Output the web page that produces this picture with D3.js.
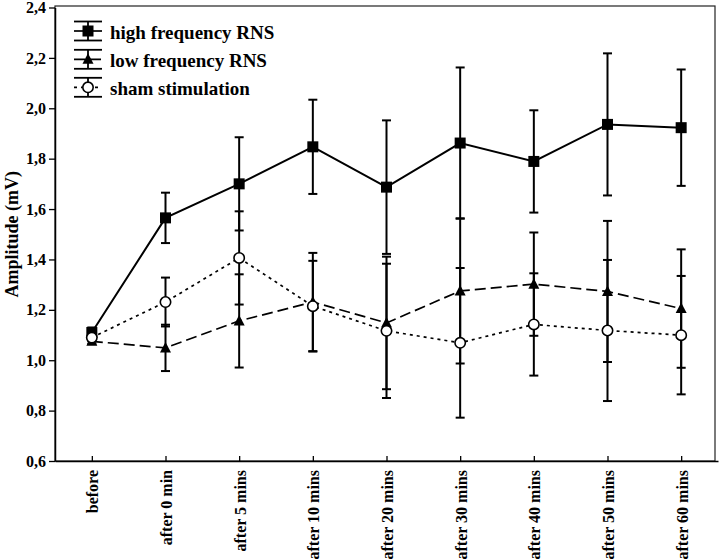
<!DOCTYPE html>
<html><head><meta charset="utf-8">
<script src="https://cdn.jsdelivr.net/npm/d3@7"></script>
<style>
body{margin:0;background:#fff;}
svg{display:block;font-family:"Liberation Serif","Times New Roman",serif;font-weight:bold;}
</style></head>
<body><svg id="chart" width="720" height="560"></svg>
<script>
const categories = ["before","after 0 min","after 5 mins","after 10 mins","after 20 mins","after 30 mins","after 40 mins","after 50 mins","after 60 mins"];
const highMean = [1.11,1.565,1.70,1.847,1.687,1.862,1.789,1.936,1.923];
const highErr  = [0.02,0.10,0.185,0.187,0.265,0.30,0.203,0.282,0.231];
const lowMean  = [1.075,1.049,1.156,1.231,1.148,1.275,1.302,1.273,1.205];
const lowErr   = [0.01,0.092,0.185,0.195,0.263,0.288,0.205,0.28,0.235];
const shamMean = [1.09,1.231,1.406,1.2145,1.1165,1.069,1.142,1.118,1.0995];
const shamErr  = [0.015,0.097,0.185,0.18,0.2665,0.297,0.203,0.28,0.235];
const yTicks = [0.6,0.8,1.0,1.2,1.4,1.6,1.8,2.0,2.2,2.4];
const seriesNames = ["high frequency RNS","low frequency RNS","sham stimulation"];

const svg = d3.select("#chart");
const L=55, R=715, T=7.5, B=461;
const x = d3.scalePoint().domain(categories).range([L,718]).padding(0.5);
const y = d3.scaleLinear().domain([0.6,2.4]).range([B,T]);

const series = [
  {name:seriesNames[0], mean:highMean, err:highErr, dash:null, sym:"square"},
  {name:seriesNames[1], mean:lowMean, err:lowErr, dash:"11,5", sym:"triangle"},
  {name:seriesNames[2], mean:shamMean, err:shamErr, dash:"3,4", sym:"circle"}
];

// frame
svg.append("rect").attr("x",L).attr("y",T-1.5).attr("width",R-L).attr("height",B-T+1.5)
  .attr("fill","none").attr("stroke","#222").attr("stroke-width",1.2);

// axes
const yAxis = d3.axisLeft(y).tickValues(yTicks).tickSizeInner(6).tickSizeOuter(0).tickPadding(3)
  .tickFormat(d=>d3.format(".1f")(d).replace(".",","));
const gy = svg.append("g").attr("transform",`translate(${L},0)`).call(yAxis);
gy.select(".domain").attr("stroke","#000").attr("stroke-width",1.5);
gy.selectAll(".tick line").attr("stroke","#000").attr("stroke-width",1.3);
gy.selectAll(".tick text").attr("font-size",16).attr("font-family","Liberation Serif").attr("font-weight","bold").attr("fill","#000");

const xAxis = d3.axisBottom(x).tickSizeInner(-5).tickSizeOuter(0).tickPadding(0);
const gx = svg.append("g").attr("transform",`translate(0,${B})`).call(xAxis);
gx.select(".domain").attr("stroke","#000").attr("stroke-width",1.5);
gx.selectAll(".tick line").attr("stroke","#000").attr("stroke-width",1.3);
gx.selectAll(".tick text")
  .attr("font-size",16).attr("font-family","Liberation Serif").attr("font-weight","bold").attr("fill","#000")
  .attr("text-anchor","end").attr("dy",null).attr("y",null)
  .attr("transform","translate(6,9) rotate(-90)");

// y title
svg.append("text").attr("transform",`translate(18,${(T+B)/2}) rotate(-90)`)
  .attr("text-anchor","middle").attr("font-size",18).text("Amplitude (mV)");

function drawSymbol(g, sym, cx, cy){
  if(sym==="square"){
    g.append("rect").attr("x",cx-5.5).attr("y",cy-5.5).attr("width",11).attr("height",11).attr("fill","#000");
  } else if(sym==="triangle"){
    g.append("path").attr("d",`M${cx},${cy-6}L${cx+5.5},${cy+4.5}L${cx-5.5},${cy+4.5}Z`).attr("fill","#000");
  } else {
    g.append("circle").attr("cx",cx).attr("cy",cy).attr("r",5.2).attr("fill","#fff").attr("stroke","#000").attr("stroke-width",1.6);
  }
}

const line = d3.line().x((d,i)=>x(categories[i])).y(d=>y(d));
const plot = svg.append("g");
series.forEach(s=>{
  plot.append("path").attr("d",line(s.mean)).attr("fill","none").attr("stroke","#000")
    .attr("stroke-width",s.dash?1.7:2).attr("stroke-dasharray",s.dash);
});
series.forEach(s=>{
  s.mean.forEach((m,i)=>{
    const cx=x(categories[i]), y1=y(m+s.err[i]), y2=y(m-s.err[i]);
    plot.append("line").attr("x1",cx).attr("x2",cx).attr("y1",y1).attr("y2",y2).attr("stroke","#000").attr("stroke-width",2);
    [y1,y2].forEach(yy=>plot.append("line").attr("x1",cx-4.5).attr("x2",cx+4.5).attr("y1",yy).attr("y2",yy).attr("stroke","#000").attr("stroke-width",2));
  });
});
series.forEach(s=>{
  s.mean.forEach((m,i)=>drawSymbol(plot,s.sym,x(categories[i]),y(m)));
});

// legend
const leg = svg.append("g");
const rowY=[31,59.3,87.3];
series.forEach((s,k)=>{
  const cy=rowY[k], cx=88;
  [cy-9.5,cy+9.5].forEach(yy=>leg.append("line").attr("x1",74).attr("x2",102).attr("y1",yy).attr("y2",yy).attr("stroke","#000").attr("stroke-width",1.8));
  leg.append("line").attr("x1",cx).attr("x2",cx).attr("y1",cy-9.5).attr("y2",cy+9.5).attr("stroke","#000").attr("stroke-width",1.8);
  leg.append("line").attr("x1",74).attr("x2",102).attr("y1",cy).attr("y2",cy).attr("stroke","#000").attr("stroke-width",1.7).attr("stroke-dasharray",s.dash);
  drawSymbol(leg,s.sym,cx,cy);
  leg.append("text").attr("x",110).attr("y",cy+8).attr("font-size",19).text(s.name);
});
</script></body></html>
